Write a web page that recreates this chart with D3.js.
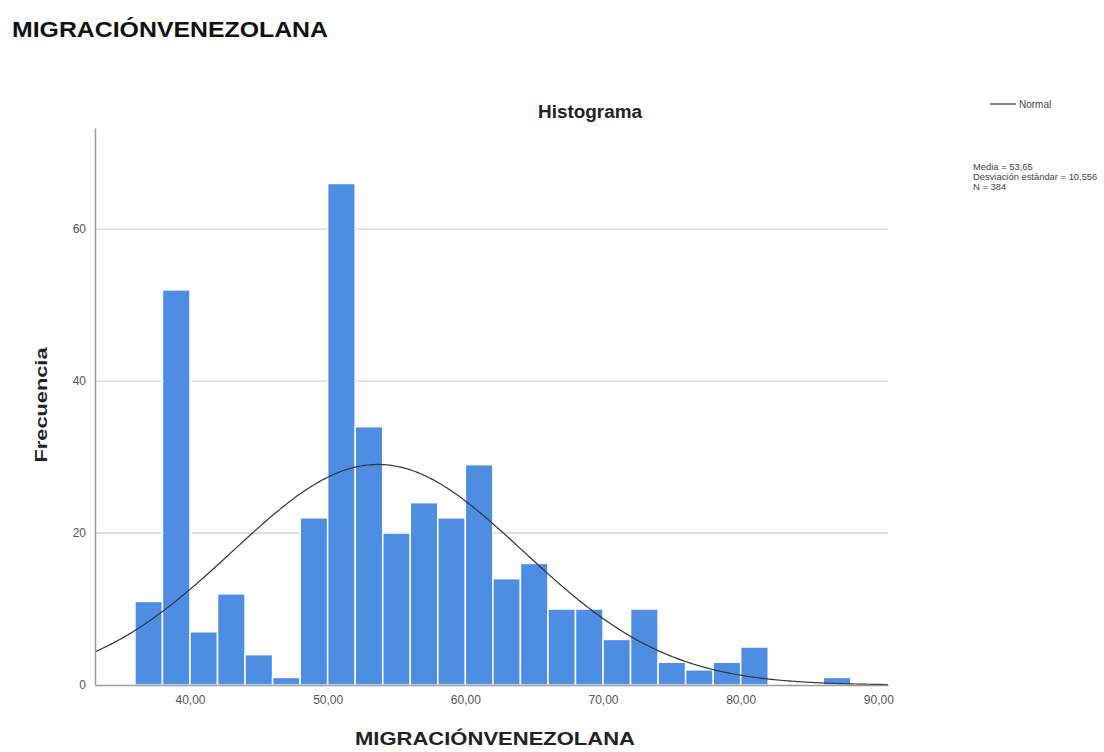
<!DOCTYPE html>
<html><head><meta charset="utf-8">
<script src="https://cdn.jsdelivr.net/npm/d3@7"></script>
<style>
body{margin:0;background:#fff;}
text{font-family:"Liberation Sans",Arial,sans-serif;}
</style></head>
<body><svg id="c" width="1104" height="752"></svg>
<script>
// Data
const binStarts = [36,38,40,42,44,46,48,50,52,54,56,58,60,62,64,66,68,70,72,74,76,78,80,82,84,86];
const counts    = [11,52,7,12,4,1,22,66,34,20,24,22,29,14,16,10,10,6,10,3,2,3,5,0,0,1];
const binWidth = 2;
const xTicks = [40,50,60,70,80,90];
const yTicks = [0,20,40,60];
const mean = 53.65, sd = 10.556, N = 384;
const statsLines = ["Media = 53,65","Desviación estándar = 10,556","N = 384"];

const svg = d3.select("#c");
const L = 95, R = 888, T = 128, B = 685;
const x = d3.scaleLinear().domain([33.1, 90.7]).range([L, R]);
const y = d3.scaleLinear().domain([0, 73.3]).range([B, T]);

// gridlines
svg.append("g").selectAll("line").data(yTicks.filter(d=>d>0)).join("line")
  .attr("x1", L).attr("x2", R).attr("y1", d=>y(d)).attr("y2", d=>y(d))
  .attr("stroke", "#d4d4d4").attr("stroke-width", 1.3);

// bars
svg.append("g").selectAll("rect").data(binStarts.map((s,i)=>({s,c:counts[i]})).filter(d=>d.c>0)).join("rect")
  .attr("x", d=>x(d.s)).attr("width", d=>x(d.s+binWidth)-x(d.s))
  .attr("y", d=>y(d.c)).attr("height", d=>B-y(d.c))
  .attr("fill", "#4d8ee3").attr("stroke", "#ffffff").attr("stroke-width", 1.5);

// normal curve
const xs = d3.range(33.1, 90.71, 0.1);
const pdf = v => N*binWidth/(sd*Math.sqrt(2*Math.PI))*Math.exp(-((v-mean)**2)/(2*sd*sd));
svg.append("path").datum(xs)
  .attr("d", d3.line().x(d=>x(d)).y(d=>y(pdf(d))).curve(d3.curveBasis))
  .attr("fill","none").attr("stroke","#333").attr("stroke-width",1.2);

// axes
const xAxis = svg.append("g").attr("transform",`translate(0,${B})`)
  .call(d3.axisBottom(x).tickValues(xTicks).tickSize(0).tickPadding(10)
    .tickFormat(d=>d3.format(".2f")(d).replace(".",",")));
xAxis.select(".domain").attr("stroke","#9a9a9a").attr("stroke-width",1.5);
xAxis.selectAll("text").attr("font-size",12).attr("fill","#555").attr("font-family","Liberation Sans, Arial, sans-serif");
const yAxis = svg.append("g").attr("transform",`translate(${L},0)`)
  .call(d3.axisLeft(y).tickValues(yTicks).tickSize(0).tickPadding(9));
yAxis.select(".domain").attr("stroke","#9a9a9a").attr("stroke-width",1.5);
yAxis.selectAll("text").attr("font-size",12).attr("fill","#555").attr("font-family","Liberation Sans, Arial, sans-serif");

// titles
svg.append("text").attr("x",12).attr("y",37).attr("font-size",22).attr("font-weight","bold")
  .attr("fill","#111").attr("textLength",316).attr("lengthAdjust","spacingAndGlyphs")
  .text("MIGRACIÓNVENEZOLANA");
svg.append("text").attr("x",590).attr("y",118).attr("text-anchor","middle").attr("font-size",18)
  .attr("font-weight","bold").attr("fill","#222").attr("textLength",104).attr("lengthAdjust","spacingAndGlyphs")
  .text("Histograma");
svg.append("text").attr("x",495).attr("y",745).attr("text-anchor","middle").attr("font-size",18)
  .attr("font-weight","bold").attr("fill","#222").attr("textLength",280).attr("lengthAdjust","spacingAndGlyphs")
  .text("MIGRACIÓNVENEZOLANA");
svg.append("text").attr("transform","translate(47,405) rotate(-90)").attr("text-anchor","middle")
  .attr("font-size",17).attr("font-weight","bold").attr("fill","#222")
  .attr("textLength",115).attr("lengthAdjust","spacingAndGlyphs").text("Frecuencia");

// legend
svg.append("line").attr("x1",990).attr("x2",1016).attr("y1",104).attr("y2",104).attr("stroke","#333").attr("stroke-width",1.2);
svg.append("text").attr("x",1019).attr("y",108).attr("font-size",10).attr("fill","#444").text("Normal");
svg.append("g").selectAll("text").data(statsLines).join("text")
  .attr("x",973).attr("y",(d,i)=>170+i*10).attr("font-size",9.4).attr("fill","#444").text(d=>d);
</script></body></html>
